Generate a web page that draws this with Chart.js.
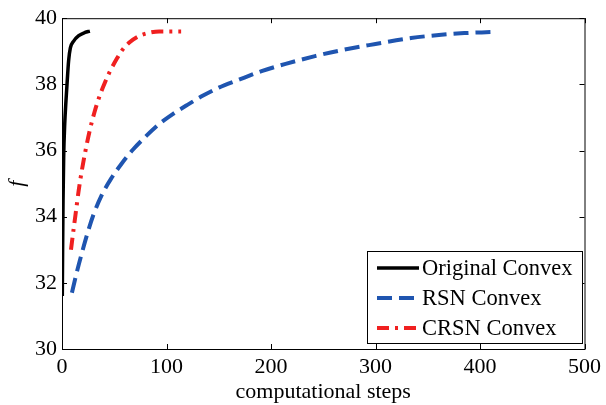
<!DOCTYPE html>
<html><head><meta charset="utf-8">
<script src="https://cdn.jsdelivr.net/npm/chart.js@4/dist/chart.umd.min.js"></script>
<style>html,body{margin:0;padding:0;background:#fff}#wrap{width:606px;height:405px}</style>
</head><body><div id="wrap"><canvas id="c"></canvas></div>
<script>
const originalX = [0.3, 0.6, 1.0, 1.6, 2.6, 3.8, 5.0, 6.3, 8, 11, 16, 22, 26.7];
const originalY = [31.6, 33.0, 34.5, 35.8, 36.8, 37.5, 38.1, 38.7, 39.1, 39.3, 39.47, 39.57, 39.61];
const rsnX = [9.5, 14, 19, 24, 30, 38, 47, 57, 68, 80, 93, 106, 120, 135, 150, 170, 191, 214, 243, 270, 300, 334, 363, 385, 410];
const rsnY = [31.7, 32.3, 32.9, 33.46, 34.05, 34.65, 35.15, 35.6, 36.03, 36.42, 36.8, 37.1, 37.38, 37.66, 37.9, 38.15, 38.4, 38.62, 38.86, 39.05, 39.22, 39.4, 39.5, 39.55, 39.58];
const crsnX = [8.6, 11, 13.5, 16, 19, 22.5, 26.5, 31, 36, 41, 46, 52, 58, 65, 73, 82, 93, 114];
const crsnY = [33.0, 33.6, 34.2, 34.8, 35.4, 36.0, 36.6, 37.15, 37.65, 38.05, 38.4, 38.75, 39.05, 39.28, 39.45, 39.55, 39.6, 39.6];
const seriesNames = ['Original Convex', 'RSN Convex', 'CRSN Convex'];
const xTicks = [0, 100, 200, 300, 400, 500];
const yTicks = [30, 32, 34, 36, 38, 40];

const pts = (xs, ys) => xs.map((x, i) => ({x, y: ys[i]}));
const FONT = '"Liberation Serif", "Times New Roman", serif';

const frame = {
  id: 'frame',
  afterDraw(chart) {
    const {ctx, chartArea: a, scales} = chart;
    ctx.save();
    ctx.strokeStyle = '#000';
    ctx.lineWidth = 1;
    ctx.strokeRect(a.left + 0.5, a.top + 0.5, a.right - a.left, a.bottom - a.top);
    const L = 5;
    ctx.beginPath();
    xTicks.forEach(v => {
      const px = Math.round(scales.x.getPixelForValue(v)) + 0.5;
      ctx.moveTo(px, a.bottom); ctx.lineTo(px, a.bottom - L);
      ctx.moveTo(px, a.top); ctx.lineTo(px, a.top + L);
    });
    yTicks.forEach(v => {
      const py = Math.round(scales.y.getPixelForValue(v)) + 0.5;
      ctx.moveTo(a.left, py); ctx.lineTo(a.left + L, py);
      ctx.moveTo(a.right, py); ctx.lineTo(a.right - L, py);
    });
    ctx.stroke();
    const bx = 367, by = 251, bw = 215, bh = 92;
    ctx.fillStyle = '#fff';
    ctx.fillRect(bx, by, bw, bh);
    ctx.strokeRect(bx + 0.5, by + 0.5, bw, bh);
    ctx.font = '22.5px ' + FONT;
    ctx.textBaseline = 'middle';
    chart.data.datasets.forEach((ds, i) => {
      const y = by + 17 + i * 30;
      ctx.save();
      ctx.strokeStyle = ds.borderColor;
      ctx.lineWidth = ds.borderWidth;
      ctx.setLineDash(ds.borderDash || []);
      ctx.beginPath(); ctx.moveTo(bx + 10, y); ctx.lineTo(bx + 52, y); ctx.stroke();
      ctx.restore();
      ctx.fillStyle = '#000';
      ctx.fillText(ds.label, bx + 55, y + 1);
    });
    ctx.restore();
  }
};

Chart.defaults.font.family = FONT;

function build() {
  new Chart(document.getElementById('c'), {
    type: 'line',
    data: {
      datasets: [
        {label: seriesNames[0], data: pts(originalX, originalY), borderColor: '#000000', borderWidth: 3.5, pointRadius: 0, cubicInterpolationMode: 'monotone'},
        {label: seriesNames[1], data: pts(rsnX, rsnY), borderColor: '#1f55b0', borderWidth: 4, borderDash: [15, 7], pointRadius: 0, cubicInterpolationMode: 'monotone'},
        {label: seriesNames[2], data: pts(crsnX, crsnY), borderColor: '#f02020', borderWidth: 4, borderDash: [12, 6, 3, 6], pointRadius: 0, cubicInterpolationMode: 'monotone'}
      ]
    },
    options: {
      responsive: true, maintainAspectRatio: false, animation: false,
      layout: {padding: {top: 14, right: 18, left: 0, bottom: 0}},
      plugins: {legend: {display: false}, tooltip: {enabled: false}},
      scales: {
        x: {type: 'linear', min: 0, max: 500,
          afterBuildTicks: s => { s.ticks = xTicks.map(v => ({value: v})); },
          afterFit: s => { s.height = 56; },
          grid: {display: false, drawTicks: false},
          border: {display: false},
          ticks: {color: '#000', font: {family: FONT, size: 22}, padding: 5, maxRotation: 0},
          title: {display: true, text: 'computational steps', color: '#000', font: {family: FONT, size: 22}, padding: {top: 0, bottom: 0}}
        },
        y: {type: 'linear', min: 30, max: 40,
          afterBuildTicks: s => { s.ticks = yTicks.map(v => ({value: v})); },
          afterFit: s => { s.width = 62; },
          grid: {display: false, drawTicks: false},
          border: {display: false},
          ticks: {color: '#000', font: {family: FONT, size: 22}, padding: 5},
          title: {display: true, text: 'f', color: '#000', font: {family: FONT, size: 22, style: 'italic'}, padding: {top: 4, bottom: 0}}
        }
      }
    },
    plugins: [frame]
  });
}
if (document.fonts && document.fonts.load) {
  Promise.all([document.fonts.load('22px "Liberation Serif"'), document.fonts.load('italic 22px "Liberation Serif"')]).then(build, build);
} else { build(); }
</script></body></html>
